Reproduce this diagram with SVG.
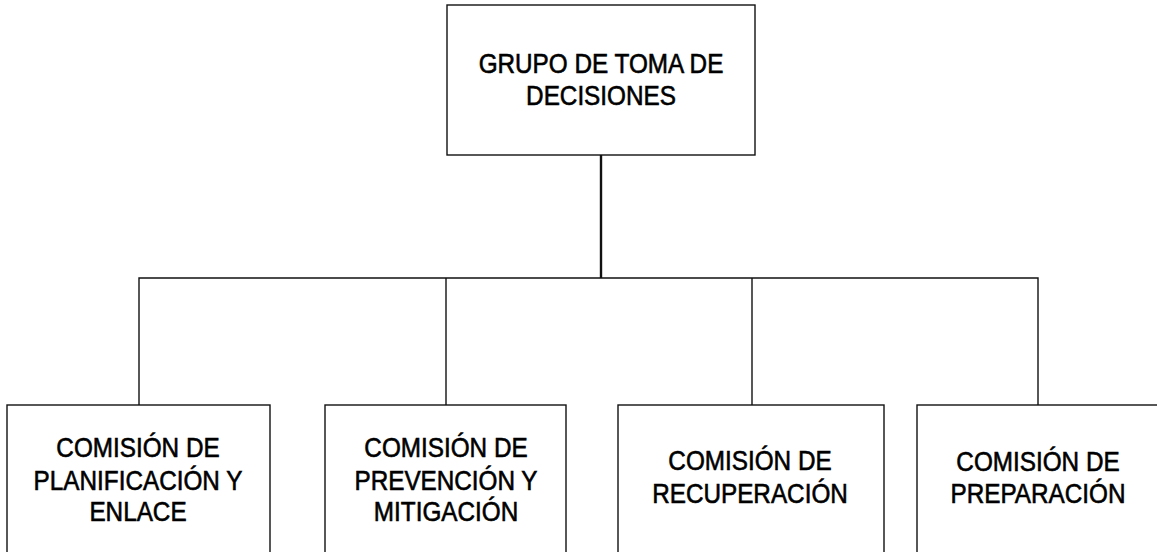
<svg xmlns="http://www.w3.org/2000/svg" width="1157" height="552" viewBox="0 0 1157 552">
<style>
.box{fill:#fff;stroke:#111;stroke-width:1.4}
.t{font-family:"Liberation Sans",Arial,sans-serif;font-size:27px;fill:#000;stroke:#000;stroke-width:0.6;text-anchor:middle}
.c{fill:none;stroke:#111;stroke-width:1.4}
</style>
<rect width="1157" height="552" fill="#fff"/>
<g id="connectors">
<line class="c" x1="601" y1="155" x2="601" y2="278" style="stroke-width:2.4"/>
<polyline class="c" points="139,405 139,278 1038,278 1038,405"/>
<line class="c" x1="446" y1="278" x2="446" y2="405"/>
<line class="c" x1="752" y1="278" x2="752" y2="405"/>
</g>
<g id="n0">
<rect class="box" x="447" y="5" width="308" height="150"/>
<text class="t" transform="translate(601,0) scale(0.9,1)"><tspan x="0" y="73">GRUPO DE TOMA DE</tspan><tspan x="0" y="105">DECISIONES</tspan></text>
</g>
<g id="n1">
<rect class="box" x="7" y="405" width="263" height="160"/>
<text class="t" transform="translate(138,0) scale(0.9,1)"><tspan x="0" y="457">COMISIÓN DE</tspan><tspan x="0" y="490">PLANIFICACIÓN Y</tspan><tspan x="0" y="521">ENLACE</tspan></text>
</g>
<g id="n2">
<rect class="box" x="325" y="405" width="241" height="160"/>
<text class="t" transform="translate(446,0) scale(0.9,1)"><tspan x="0" y="457">COMISIÓN DE</tspan><tspan x="0" y="490">PREVENCIÓN Y</tspan><tspan x="0" y="521">MITIGACIÓN</tspan></text>
</g>
<g id="n3">
<rect class="box" x="618" y="405" width="266" height="160"/>
<text class="t" transform="translate(750,0) scale(0.9,1)"><tspan x="0" y="470">COMISIÓN DE</tspan><tspan x="0" y="503">RECUPERACIÓN</tspan></text>
</g>
<g id="n4">
<rect class="box" x="917" y="405" width="250" height="160"/>
<text class="t" transform="translate(1038,0) scale(0.9,1)"><tspan x="0" y="471">COMISIÓN DE</tspan><tspan x="0" y="503">PREPARACIÓN</tspan></text>
</g>
</svg>
